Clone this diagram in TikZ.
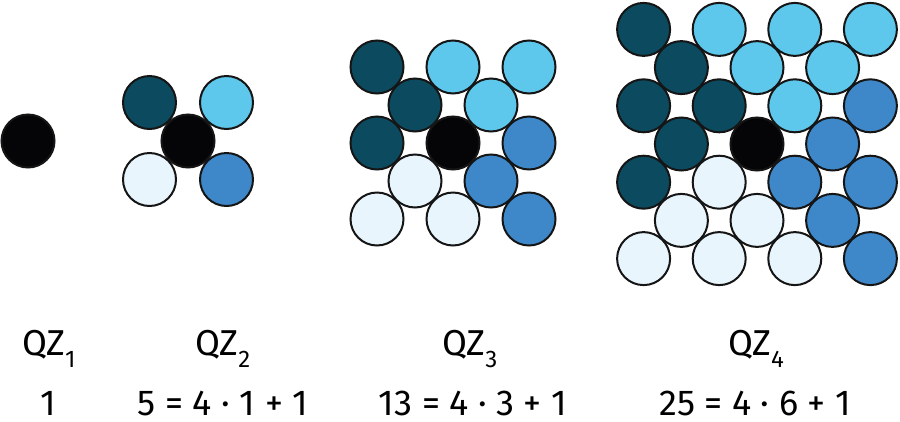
\documentclass[tikz,border=0pt]{standalone}
\usepackage{fontspec}
\setmainfont{Fira Sans}
\definecolor{qdark}{HTML}{0B4A5F}
\definecolor{qlight}{HTML}{5EC8EC}
\definecolor{qmed}{HTML}{3E88CA}
\definecolor{qpale}{HTML}{E9F5FC}
\definecolor{qblack}{HTML}{050508}
\definecolor{qline}{HTML}{151515}
\newcommand{\qzlab}[1]{QZ\raisebox{-0.34em}{\fontsize{24}{24}\selectfont #1}}
\begin{document}
\begin{tikzpicture}[x=1pt,y=-1pt,
  ball/.style={draw=qline,line width=2pt},
  lab/.style={font=\fontsize{36}{42}\selectfont, anchor=base, inner sep=0pt}]
\useasboundingbox (0,0) rectangle (900,421);
% QZ1
\filldraw[ball, fill=qblack] (28,141) circle (26.5pt);
% QZ2
\begin{scope}[shift={(188,141)}, x=38.5pt, y=38.5pt]
  \filldraw[ball, fill=qdark] (-1,1) circle (26.5pt);
  \filldraw[ball, fill=qlight] (1,1) circle (26.5pt);
  \filldraw[ball, fill=qmed] (1,-1) circle (26.5pt);
  \filldraw[ball, fill=qpale] (-1,-1) circle (26.5pt);
  \filldraw[ball, fill=qblack] (0,0) circle (26.5pt);
\end{scope}
% QZ3
\begin{scope}[shift={(453,143)}, x=38pt, y=38pt]
  \foreach \p in {(-2,2),(-1,1),(-2,0)} \filldraw[ball, fill=qdark] \p circle (26.5pt);
  \foreach \p in {(0,2),(2,2),(1,1)} \filldraw[ball, fill=qlight] \p circle (26.5pt);
  \foreach \p in {(2,0),(1,-1),(2,-2)} \filldraw[ball, fill=qmed] \p circle (26.5pt);
  \foreach \p in {(-1,-1),(-2,-2),(0,-2)} \filldraw[ball, fill=qpale] \p circle (26.5pt);
  \filldraw[ball, fill=qblack] (0,0) circle (26.5pt);
\end{scope}
% QZ4
\begin{scope}[shift={(757,144)}, x=37.8pt, y=38.2pt]
  \foreach \p in {(-3,3),(-2,2),(-3,1),(-1,1),(-2,0),(-3,-1)} \filldraw[ball, fill=qdark] \p circle (26.5pt);
  \foreach \p in {(-1,3),(1,3),(3,3),(0,2),(2,2),(1,1)} \filldraw[ball, fill=qlight] \p circle (26.5pt);
  \foreach \p in {(3,1),(2,0),(1,-1),(3,-1),(2,-2),(3,-3)} \filldraw[ball, fill=qmed] \p circle (26.5pt);
  \foreach \p in {(-1,-1),(-2,-2),(0,-2),(-3,-3),(-1,-3),(1,-3)} \filldraw[ball, fill=qpale] \p circle (26.5pt);
  \filldraw[ball, fill=qblack] (0,0) circle (26.5pt);
\end{scope}
% labels
\node[lab] (l1) at (49,355) {\qzlab{1}};
\node[lab] (l2) at (223,355) {\qzlab{2}};
\node[lab] (l3) at (470,355) {\qzlab{3}};
\node[lab] (l4) at (756,355) {\qzlab{4}};
\node[lab] (e1) at (48,415) {1};
\node[lab] (e2) at (223,415) {5 = 4 · 1 + 1};
\node[lab] (e3) at (473,415) {13 = 4 · 3 + 1};
\node[lab] (e4) at (755,415) {25 = 4 · 6 + 1};
\end{tikzpicture}
\end{document}
